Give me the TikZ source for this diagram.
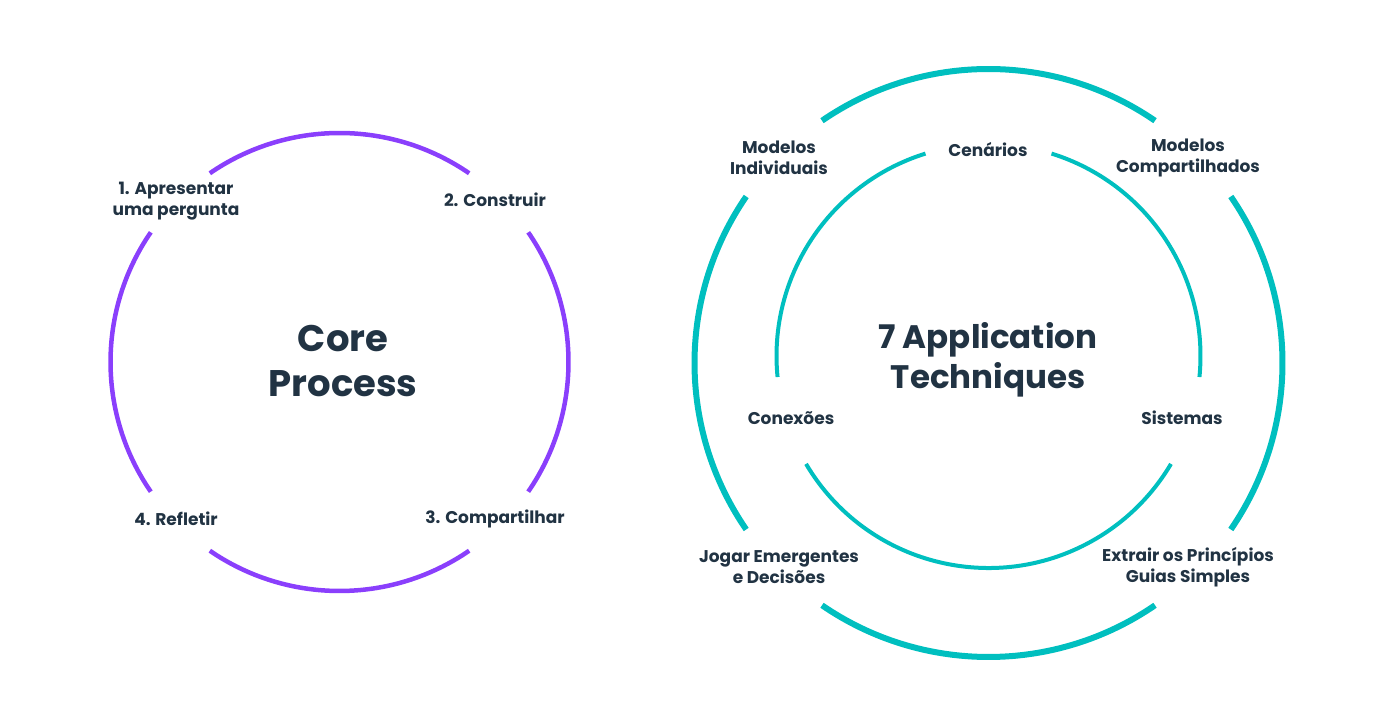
\documentclass[tikz,border=0pt]{standalone}
\usepackage{fontspec}
\setmainfont{Poppins}
\usepackage{xcolor}
\usepackage{tikz}
\usetikzlibrary{positioning}
\definecolor{corepurple}{HTML}{8A3FFC}
\definecolor{appteal}{HTML}{00BFBF}
\definecolor{inkblue}{HTML}{213343}

\begin{document}
\begin{tikzpicture}[
  x=1pt, y=1pt,
  purplearc/.style={
    draw=corepurple,
    line width=4.5pt
  },
  outerarc/.style={
    draw=appteal,
    line width=6pt
  },
  innerarc/.style={
    draw=appteal,
    line width=4pt
  },
  steplabel/.style={
    text=inkblue,
    align=center,
    font=\fontsize{17}{21}\selectfont\bfseries
  },
  coretitle/.style={
    text=inkblue,
    align=center,
    font=\fontsize{37}{45}\selectfont\bfseries
  },
  apptitle/.style={
    text=inkblue,
    align=center,
    font=\fontsize{32.5}{40}\selectfont\bfseries
  }
]
\useasboundingbox (0,0) rectangle (1392,725);

% centres of the rings
\coordinate (corec) at (339.5,363);
\coordinate (outerc) at (988.5,362);
\coordinate (innerc) at (988.5,369);

% left ring
\foreach \s in {-34.5,55.5,145.5,235.5}
  \draw[purplearc] ([shift={(\s:229pt)}]corec) arc[start angle=\s, delta angle=69, radius=229pt];

\node[coretitle] (core) at (343,364) {Core\\Process};
\node[steplabel] (ask) at (176,524) {1. Apresentar\\uma pergunta};
\node[steplabel] (build) at (495,525) {2. Construir};
\node[steplabel] (share) at (495,206) {3. Compartilhar};
\node[steplabel] (reflect) at (176,206) {4. Refletir};

% right rings
\foreach \s in {-34.5,55.5,145.5,235.5}
  \draw[outerarc] ([shift={(\s:294pt)}]outerc) arc[start angle=\s, delta angle=69, radius=294pt];
\draw[innerarc] ([shift={(-5.7:212pt)}]innerc) arc[start angle=-5.7, end angle=72.7, radius=212pt];
\draw[innerarc] ([shift={(107.3:212pt)}]innerc) arc[start angle=107.3, end angle=185.7, radius=212pt];
\draw[innerarc] ([shift={(210.6:212pt)}]innerc) arc[start angle=210.6, end angle=329.4, radius=212pt];

\node[apptitle] (techniques) at (988,365) {7 Application\\Techniques};
\node[steplabel] (individual) at (779,567) {Modelos\\Individuais};
\node[steplabel] (scenarios) at (988,575) {Cenários};
\node[steplabel] (shared) at (1188,567) {Modelos\\Compartilhados};
\node[steplabel] (links) at (791,307) {Conexões};
\node[steplabel] (systems) at (1182,307) {Sistemas};
\node[steplabel] (play) at (779,158) {Jogar Emergentes\\e Decisões};
\node[steplabel] (rules) at (1188,158) {Extrair os Princípios\\Guias Simples};

\end{tikzpicture}
\end{document}
